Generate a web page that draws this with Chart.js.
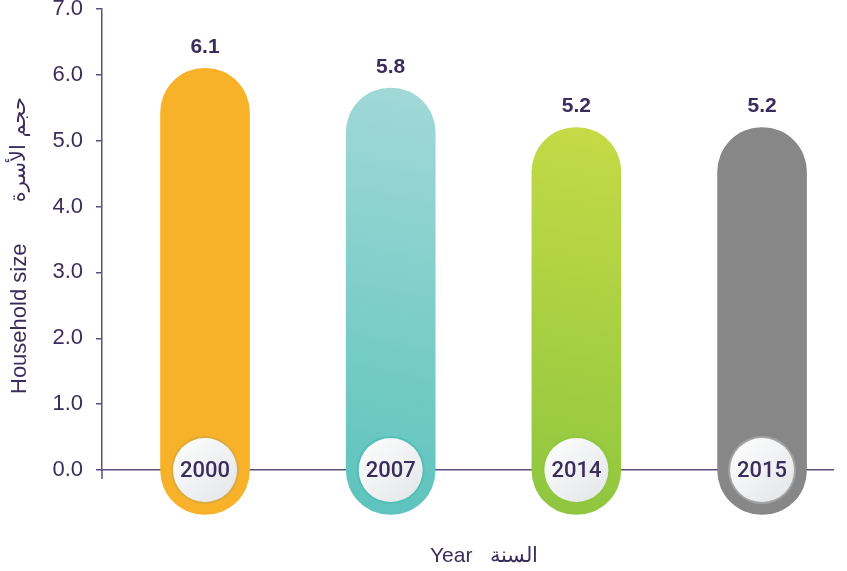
<!DOCTYPE html>
<html>
<head>
<meta charset="utf-8">
<script src="https://cdn.jsdelivr.net/npm/chart.js@4.4.1/dist/chart.umd.min.js"></script>
<style>
  html, body { margin: 0; padding: 0; background: #ffffff; }
  #wrap { width: 847px; height: 571px; position: relative; }
</style>
</head>
<body>
<div id="wrap"><canvas id="c" width="847" height="571"></canvas></div>
<script>
// ---- data ----
const years = ['2000', '2007', '2014', '2015'];
const householdSize = [6.1, 5.8, 5.2, 5.2];
const yTicks = [0, 1, 2, 3, 4, 5, 6, 7];
const yTitleEn = 'Household size';
const yTitleAr = 'حجم الأسرة';
const xTitle = 'Year   السنة';

// ---- styles ----
const TEXT = '#3B2D5B';
const AXIS = '#5C4E7E';
const barTop = ['#F7B22A', '#A2D9D7', '#C6DA46', '#878787'];
const barBottom = ['#F7B22A', '#5CC3BC', '#8DC63F', '#878787'];
const ringColor = ['#DDAA3E', '#52BFB7', '#8FC840', '#A4A4A4'];
const BAR_W = 89;

const points = householdSize.map((v, i) => ({ x: i, y: v }));

function barFill(ctx) {
  const chart = ctx.chart;
  const i = ctx.dataIndex;
  if (!chart.chartArea || i === undefined || !chart.scales.x) return barTop[i || 0];
  const xs = chart.scales.x, ys = chart.scales.y;
  const cx = xs.getPixelForValue(i);
  const top = ys.getPixelForValue(householdSize[i]);
  const bot = ys.getPixelForValue(0) + BAR_W / 2;
  const g = chart.ctx.createLinearGradient(cx - BAR_W / 2, bot, cx + BAR_W / 2, top);
  g.addColorStop(0, barBottom[i]);
  g.addColorStop(1, barTop[i]);
  return g;
}

const decor = {
  id: 'decor',
  afterDatasetsDraw(chart) {
    const c = chart.ctx;
    const xs = chart.scales.x, ys = chart.scales.y;
    const y0 = ys.getPixelForValue(0);
    const meta = chart.getDatasetMeta(0);
    c.save();
    c.strokeStyle = AXIS; c.lineWidth = 1.5;
    c.beginPath(); c.moveTo(xs.left, y0); c.lineTo(xs.left, y0 + 9); c.stroke();
    meta.data.forEach((el, i) => {
      const x = el.x;
      const r = 32.5;
      const g = c.createLinearGradient(x - r, y0 - r, x + r, y0 + r);
      g.addColorStop(0, '#FFFFFF');
      g.addColorStop(1, '#E2E4E6');
      c.beginPath(); c.arc(x, y0, r + 1.5, 0, Math.PI * 2);
      c.fillStyle = ringColor[i]; c.fill();
      c.beginPath(); c.arc(x, y0, r - 0.5, 0, Math.PI * 2);
      c.fillStyle = g; c.fill();
      c.fillStyle = TEXT;
      c.font = '500 22px Roboto, "Liberation Sans", Arial, sans-serif';
      c.textAlign = 'center'; c.textBaseline = 'middle';
      c.fillText(years[i], x, y0 + 1);
      c.font = 'bold 21px "Liberation Sans", Arial, sans-serif';
      c.fillText(householdSize[i].toFixed(1), x, el.y - 21);
    });
    c.font = '21px "Liberation Sans", Arial, sans-serif';
    c.fillStyle = TEXT;
    c.textAlign = 'center'; c.textBaseline = 'middle';
    c.fillText(xTitle, 484, 556);
    // y title: English part starting at bottom, Arabic part ending at top
    c.font = '22px "Liberation Sans", Arial, sans-serif';
    c.save();
    c.translate(20, 394);
    c.rotate(-Math.PI / 2);
    c.textAlign = 'left';
    c.fillText(yTitleEn, 0, 0);
    c.restore();
    c.save();
    c.translate(20, 97);
    c.rotate(-Math.PI / 2);
    c.textAlign = 'right';
    c.font = '21px "DejaVu Sans", "Liberation Sans", Arial, sans-serif';
    c.fillText(yTitleAr, 0, 0);
    c.restore();
    c.restore();
  }
};

new Chart(document.getElementById('c'), {
  type: 'bar',
  data: {
    datasets: [{
      data: points,
      backgroundColor: barFill,
      borderWidth: 0,
      borderRadius: BAR_W / 2,
      borderSkipped: false,
      barThickness: BAR_W,
      base: -0.676,
      clip: false
    }]
  },
  options: {
    responsive: false,
    animation: false,
    layout: { padding: { top: 9, right: 14, left: 0, bottom: 0 } },
    plugins: { legend: { display: false }, tooltip: { enabled: false } },
    scales: {
      x: {
        type: 'linear',
        offset: false,
        min: -0.5548,
        max: 3.382,
        grid: { display: false, offset: false },
        border: { display: true, color: AXIS, width: 1.5 },
        ticks: { display: false },
        afterFit(s) { s.height = 101; s.paddingLeft = 0; s.paddingRight = 0; }
      },
      y: {
        min: 0,
        max: 7,
        afterBuildTicks(s) { s.ticks = yTicks.map(v => ({ value: v })); },
        grid: { display: true, drawOnChartArea: false, drawTicks: true, tickLength: 6, color: AXIS, lineWidth: 1.5 },
        border: { display: true, color: AXIS, width: 1.5 },
        ticks: {
          color: TEXT,
          padding: 13,
          font: { family: '"Liberation Sans", Arial, sans-serif', size: 22 },
          callback: v => Number(v).toFixed(1)
        },
        afterFit(s) { s.width = 102; s.paddingTop = 0; s.paddingBottom = 0; }
      }
    }
  },
  plugins: [decor]
});
</script>
</body>
</html>
